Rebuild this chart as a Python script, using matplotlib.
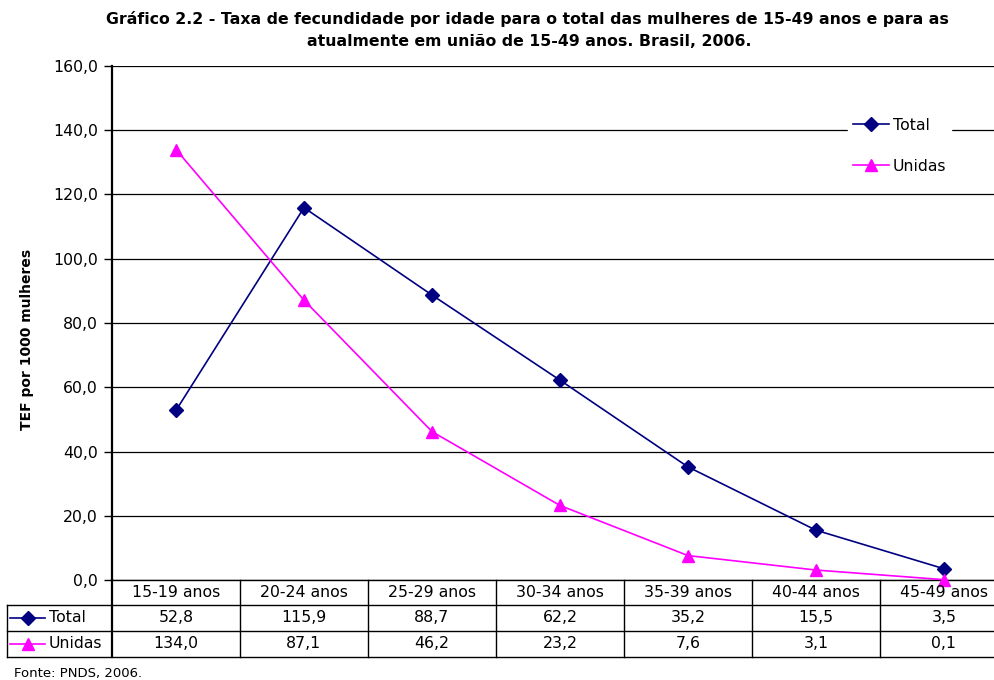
import matplotlib.pyplot as plt
from matplotlib.lines import Line2D
from matplotlib.transforms import blended_transform_factory
import numpy as np

plt.rcParams['font.family'] = ['DejaVu Sans']

categorias = ['15-19 anos', '20-24 anos', '25-29 anos', '30-34 anos',
              '35-39 anos', '40-44 anos', '45-49 anos']
total = [52.8, 115.9, 88.7, 62.2, 35.2, 15.5, 3.5]
unidas = [134.0, 87.1, 46.2, 23.2, 7.6, 3.1, 0.1]
yticks = [0, 20, 40, 60, 80, 100, 120, 140, 160]

W, H = 995, 680
def fx(px):
    return px / W
def fy(py):
    return 1 - py / H

FS = 11.3

fig = plt.figure(figsize=(W / 100, H / 100), dpi=100)
ax_l, ax_r, ax_t, ax_b = 112, 1008, 66, 580
ax = fig.add_axes([fx(ax_l), fy(ax_b), fx(ax_r) - fx(ax_l), fy(ax_t) - fy(ax_b)])

x = np.arange(len(categorias))
navy = '#000080'
mag = '#FF00FF'
ax.plot(x, total, color=navy, marker='D', ms=7, lw=1.2, label='Total', clip_on=False, zorder=3)
ax.plot(x, unidas, color=mag, marker='^', ms=9, lw=1.2, label='Unidas', clip_on=False, zorder=3)

ax.set_xlim(-0.5, len(categorias) - 0.5)
ax.set_ylim(0, 160)
ax.set_yticks(yticks)
ax.set_yticklabels([f'{v:.1f}'.replace('.', ',') for v in yticks], fontsize=FS)
ax.tick_params(axis='y', direction='out', length=6, width=1, pad=4)
ax.set_xticks([])
ax.grid(axis='y', color='black', lw=0.9)
ax.set_axisbelow(True)
for s in ['top', 'right']:
    ax.spines[s].set_visible(False)
ax.spines['left'].set_linewidth(1.6)
ax.spines['bottom'].set_linewidth(1)

aw = ax_r - ax_l
leg = ax.legend(loc='upper left', bbox_to_anchor=((848 - ax_l) / aw, 1 - (113 - ax_t) / (ax_b - ax_t)),
                frameon=True, fontsize=FS, handlelength=2.3, labelspacing=1.65,
                borderpad=0.3, handletextpad=0.25, borderaxespad=0)
leg.get_frame().set_facecolor('white')
leg.get_frame().set_edgecolor('white')
leg.get_frame().set_alpha(1)

# tabela de dados
tr = blended_transform_factory(ax.transData, fig.transFigure)
rows = [580, 605, 631, 657]
lk = dict(color='black', lw=1, transform=fig.transFigure, clip_on=False)
for r in rows[1:]:
    fig.add_artist(Line2D([fx(7), fx(ax_r)], [fy(r)] * 2, **lk))
fig.add_artist(Line2D([fx(7), fx(7)], [fy(rows[1]), fy(rows[3])], **lk))
fig.add_artist(Line2D([fx(ax_l), fx(ax_l)], [fy(rows[0]), fy(rows[3])], color='black', lw=1.6,
                      transform=fig.transFigure, clip_on=False))
for i in range(1, len(categorias)):
    fig.add_artist(Line2D([i - 0.5, i - 0.5], [fy(rows[0]), fy(rows[3])], color='black', lw=1,
                          transform=tr, clip_on=False))

mid = [(rows[k] + rows[k + 1]) / 2 for k in range(3)]
for i, c in enumerate(categorias):
    fig.text(i, fy(mid[0]), c, transform=tr, ha='center', va='center', fontsize=FS)
    fig.text(i, fy(mid[1]), f'{total[i]:.1f}'.replace('.', ','), transform=tr, ha='center', va='center', fontsize=FS)
    fig.text(i, fy(mid[2]), f'{unidas[i]:.1f}'.replace('.', ','), transform=tr, ha='center', va='center', fontsize=FS)

for k, (nome, cor, mk, ms) in enumerate([('Total', navy, 'D', 7), ('Unidas', mag, '^', 9)]):
    yy = fy(mid[k + 1])
    fig.add_artist(Line2D([fx(10), fx(45)], [yy, yy], color=cor, lw=1.2, transform=fig.transFigure))
    fig.add_artist(Line2D([fx(28)], [yy], color=cor, marker=mk, ms=ms, transform=fig.transFigure))
    fig.text(fx(49), yy, nome, ha='left', va='center', fontsize=FS)

fig.text(fx(527), fy(19), 'Gráfico 2.2 - Taxa de fecundidade por idade para o total das mulheres de 15-49 anos e para as',
         ha='center', va='center', fontsize=11.3, fontweight='bold')
fig.text(fx(529), fy(41), 'atualmente em união de 15-49 anos. Brasil, 2006.',
         ha='center', va='center', fontsize=11.3, fontweight='bold')
fig.text(fx(27), fy(339), 'TEF por 1000 mulheres', rotation=90, ha='center', va='center',
         fontsize=10, fontweight='bold')
fig.text(fx(14), fy(673), 'Fonte: PNDS, 2006.', ha='left', va='center', fontsize=9.5)

fig.savefig('out.png', dpi=100)
